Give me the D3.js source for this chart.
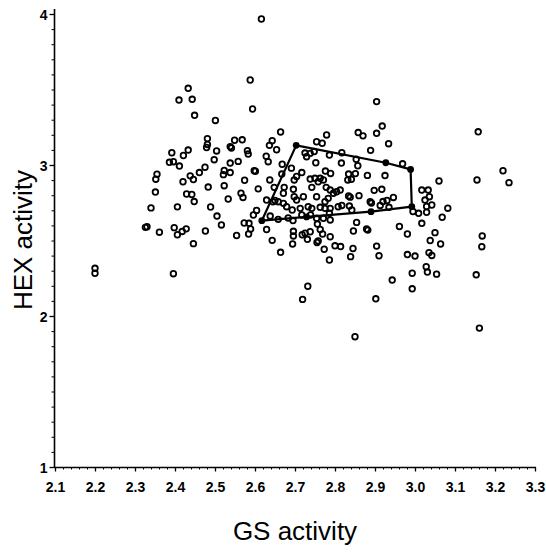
<!DOCTYPE html>
<html>
<head>
<meta charset="utf-8">
<script src="https://cdn.jsdelivr.net/npm/d3@7"></script>
<style>
  html, body { margin: 0; padding: 0; background: #fff; }
  svg { display: block; }
  .tick text { font-family: "Liberation Sans", Arial, sans-serif; font-weight: bold; font-size: 14px; fill: #000; }
  .title { font-family: "Liberation Sans", Arial, sans-serif; font-size: 26px; fill: #000; }
</style>
</head>
<body>
<script>
// GS activity (x) and HEX activity (y) for each open-circle point
const gsActivity = [
  2.616,2.588,2.594,2.433,2.410,2.443,2.449,2.501,2.904,3.158,
  2.664,2.200,2.200,2.396,2.732,2.719,2.902,2.850,3.161,3.153,
  3.220,3.235,3.155,3.168,3.167,2.481,2.481,2.479,2.549,2.568,
  2.538,2.541,2.504,2.643,2.636,2.654,2.581,2.583,2.392,2.433,
  2.421,2.386,2.396,2.411,2.475,2.498,2.538,2.558,2.628,2.633,
  2.668,2.598,2.601,2.523,2.521,2.538,2.461,2.438,2.446,2.355,
  2.352,2.691,2.574,2.637,2.483,2.523,2.420,2.351,2.429,2.442,
  2.448,2.565,2.570,2.608,2.533,2.489,2.406,2.340,2.604,2.596,
  2.505,2.516,2.326,2.330,2.361,2.398,2.406,2.418,2.428,2.476,
  2.446,2.554,2.573,2.585,2.589,2.584,2.629,2.643,2.664,2.694,
  2.696,2.696,2.725,2.738,2.748,2.729,2.754,2.768,2.779,2.786,
  2.817,2.752,2.816,2.853,2.857,2.858,2.870,2.904,2.918,2.934,
  2.889,2.969,2.776,2.789,2.834,2.851,2.832,2.841,2.881,2.925,
  2.717,2.704,2.698,2.667,2.738,2.750,2.763,2.771,2.758,2.648,
  2.673,2.671,2.696,2.698,2.721,2.704,2.742,2.778,2.788,2.796,
  2.804,2.813,2.754,2.783,2.775,2.834,2.838,2.860,2.898,2.917,
  2.629,2.650,2.645,2.658,2.671,2.679,2.693,2.713,2.733,2.742,
  2.763,2.775,2.788,2.808,2.817,2.836,2.842,2.888,2.891,2.913,
  2.920,2.930,2.935,2.946,2.638,2.658,2.683,2.695,2.717,2.739,
  2.754,2.771,2.786,2.788,2.854,2.879,2.961,2.981,3.017,3.050,
  3.038,3.064,2.981,3.000,3.035,3.042,3.028,3.031,3.054,2.993,
  2.943,2.993,2.904,2.910,2.845,2.839,2.846,2.882,2.800,2.814,
  2.788,2.773,2.786,2.758,2.755,2.763,2.756,2.718,2.725,2.738,
  2.731,2.769,3.017,3.033,3.060,3.025,3.036,3.042,3.029,3.029,
  3.082,3.009,2.995,3.068
];
const hexActivity = [
  3.967,3.563,3.371,3.508,3.430,3.435,3.329,3.295,3.420,3.220,
  3.219,2.316,2.283,2.280,2.197,2.110,2.114,1.863,1.920,2.273,
  2.962,2.883,2.901,2.530,2.459,3.175,3.136,3.116,3.164,3.167,
  3.122,3.113,3.093,3.161,3.130,3.101,3.095,3.073,3.081,3.099,
  3.063,3.018,3.022,2.993,2.985,3.035,3.013,3.024,3.058,3.022,
  3.005,2.962,2.959,2.964,2.936,2.950,2.950,2.928,2.904,2.939,
  2.906,2.979,2.899,2.901,2.854,2.863,2.889,2.821,2.808,2.805,
  2.758,2.813,2.785,2.842,2.775,2.722,2.723,2.716,2.699,2.669,
  2.662,2.603,2.587,2.591,2.555,2.585,2.538,2.560,2.577,2.563,
  2.479,2.533,2.616,2.614,2.576,2.543,2.573,2.501,2.422,2.477,
  2.561,2.530,3.079,3.077,3.089,3.055,3.154,3.144,3.199,3.066,
  3.081,3.015,3.013,3.038,2.995,3.215,3.193,3.210,3.258,3.141,
  3.097,3.008,2.960,2.944,2.940,2.943,2.901,2.905,2.931,2.930,
  2.950,2.924,2.901,2.940,2.907,2.912,2.912,2.901,2.889,2.852,
  2.852,2.813,2.839,2.790,2.790,2.768,2.852,2.852,2.834,2.813,
  2.823,2.834,2.790,2.779,2.757,2.795,2.787,2.797,2.832,2.839,
  2.768,2.765,2.756,2.757,2.746,2.724,2.702,2.713,2.724,2.713,
  2.720,2.713,2.713,2.724,2.732,2.728,2.702,2.757,2.748,2.732,
  2.758,2.765,2.720,2.785,2.662,2.640,2.649,2.632,2.669,2.669,
  2.647,2.647,2.680,2.636,2.620,2.576,2.593,2.543,2.614,2.552,
  2.500,2.477,2.407,2.397,2.419,2.401,2.326,2.291,2.277,2.283,
  2.238,2.180,2.463,2.399,2.447,2.393,2.563,2.569,2.465,2.460,
  2.525,2.442,2.371,2.497,2.487,2.573,2.609,2.538,2.548,2.558,
  2.508,2.543,2.834,2.834,2.894,2.768,2.790,2.735,2.725,2.687,
  2.714,2.680,2.692,2.654
];

// Outlined region (filled markers joined by a line)
const regionGS  = [2.703, 2.927, 2.989, 2.992, 2.890, 2.729, 2.617];
const regionHEX = [3.130, 3.015, 2.971, 2.724, 2.691, 2.656, 2.631];

// Axis ticks
const xTickValues = [2.1,2.2,2.3,2.4,2.5,2.6,2.7,2.8,2.9,3.0,3.1,3.2,3.3];
const yTickValues = [1,2,3,4];
const xTitle = "GS activity";
const yTitle = "HEX activity";

const W = 546, H = 554;
const svg = d3.select("body").append("svg").attr("width", W).attr("height", H);
svg.append("rect").attr("width", W).attr("height", H).attr("fill", "#fff");

const x = d3.scaleLinear().domain([2.1, 3.3]).range([55, 535]);
const y = d3.scaleLinear().domain([1, 4]).range([467, 14]);

// minor ticks
const xMinor = d3.range(0, 61).map(i => 2.1 + i * 0.02);
const yMinor = d3.range(0, 31).map(i => 1 + i * 0.1);

svg.append("g").attr("transform", `translate(0,${y(1)})`)
  .call(d3.axisBottom(x).tickValues(xMinor).tickSize(2.5).tickFormat(""))
  .call(g => g.select(".domain").remove())
  .selectAll("line").attr("stroke", "#000").attr("stroke-width", 1);

svg.append("g").attr("transform", `translate(${x(2.1) - 1},0)`)
  .call(d3.axisLeft(y).tickValues(yMinor).tickSize(2.5).tickFormat(""))
  .call(g => g.select(".domain").remove())
  .selectAll("line").attr("stroke", "#000").attr("stroke-width", 1);

const xAxis = svg.append("g").attr("transform", `translate(0,${y(1)})`)
  .call(d3.axisBottom(x).tickValues(xTickValues).tickSize(4.5).tickPadding(11).tickFormat(d3.format(".1f")));
xAxis.select(".domain").attr("d", `M${x(2.1) - 1},0.5H${x(3.3) + 1}`).attr("stroke", "#000").attr("stroke-width", 1.6);
xAxis.selectAll("line").attr("stroke", "#000").attr("stroke-width", 1.3);

const yAxis = svg.append("g").attr("transform", `translate(${x(2.1) - 1},0)`)
  .call(d3.axisLeft(y).tickValues(yTickValues).tickSize(4.5).tickPadding(2).tickFormat(d3.format("d")));
yAxis.select(".domain").attr("d", `M0.5,${y(1) + 1}V${y(4) - 5}`).attr("stroke", "#000").attr("stroke-width", 1.6);
yAxis.selectAll("line").attr("stroke", "#000").attr("stroke-width", 1.3);
yAxis.selectAll("text").attr("dy", "0.36em");

// titles
svg.append("text").attr("class", "title")
  .attr("x", 295).attr("y", 540).attr("text-anchor", "middle").text(xTitle);
svg.append("text").attr("class", "title")
  .attr("transform", `translate(32,240) rotate(-90)`).attr("text-anchor", "middle").text(yTitle);

// points
const pts = gsActivity.map((g, i) => ({ gs: g, hex: hexActivity[i] }));
svg.append("g").selectAll("circle").data(pts).join("circle")
  .attr("cx", d => x(d.gs)).attr("cy", d => y(d.hex)).attr("r", 2.8)
  .attr("fill", "none").attr("stroke", "#000").attr("stroke-width", 1.8);

// outlined region
const region = regionGS.map((g, i) => [x(g), y(regionHEX[i])]);
svg.append("path").attr("d", d3.line()([...region, region[0]]))
  .attr("fill", "none").attr("stroke", "#000").attr("stroke-width", 2.2).attr("stroke-linejoin", "round");
svg.append("g").selectAll("circle").data(region).join("circle")
  .attr("cx", d => d[0]).attr("cy", d => d[1]).attr("r", 3.4).attr("fill", "#000");
</script>
</body>
</html>
